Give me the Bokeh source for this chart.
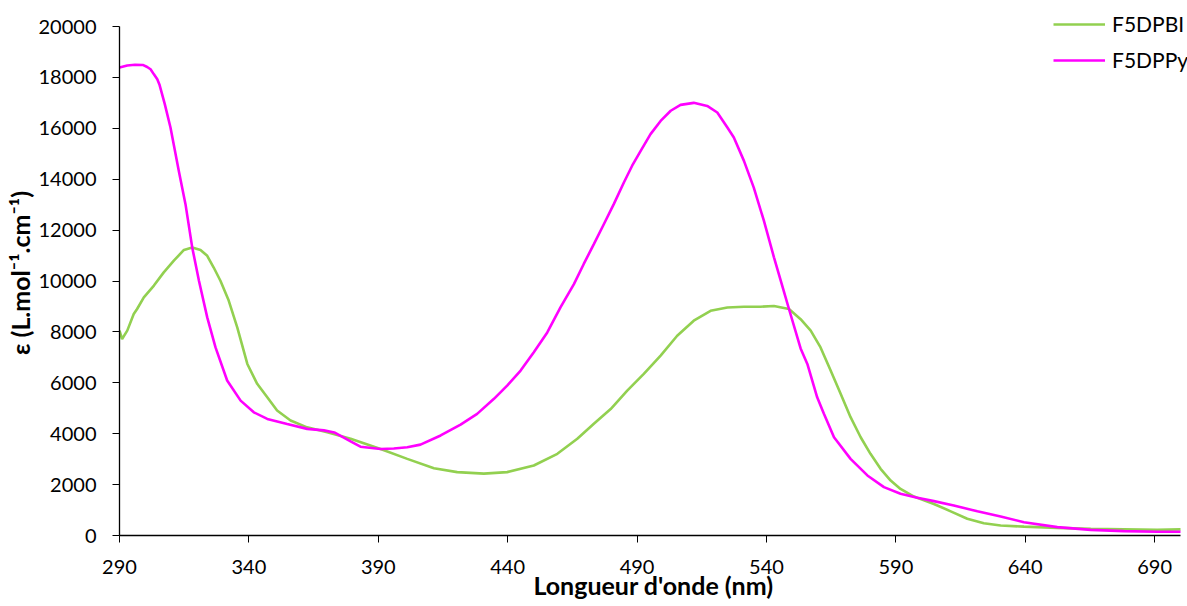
from bokeh.plotting import figure
from bokeh.models import Legend, LegendItem, FixedTicker
from bokeh.embed import file_html
from bokeh.resources import INLINE

# F5DPPy (magenta)
ppy_nm = [290, 293, 296, 299, 300.7, 302, 303.3, 304.6, 305.5, 307.5, 309.7, 312.9, 315.5, 318.1,
          320.7, 323.9, 327.1, 331.6, 336.8, 341.9, 347.1, 354.8, 362.5, 369, 373, 379.3, 383.1,
          390.9, 396, 401.2, 406.3, 414.1, 421.8, 428.2, 434.7, 439.8, 445, 450.1, 455.3, 460.4,
          465.6, 469.4, 473.3, 477.2, 481, 484.9, 488.1, 491.4, 495.2, 499.1, 503, 506.8, 511.9,
          517.1, 521, 524.9, 527.4, 531.3, 535.1, 539, 542.9, 546.7, 548.7, 553.2, 555.8,
          559.6, 562.2, 566.1, 572.5, 579, 585.4, 591.8, 598.3, 604.7, 612.4, 621.5, 630.5,
          639.5, 652.4, 665.3, 678.1, 691, 700]
ppy_eps = [18390, 18470, 18500, 18490, 18410, 18320, 18120, 17930, 17700, 16950, 16030, 14330, 13020,
           11320, 10010, 8570, 7390, 6090, 5300, 4840, 4580, 4380, 4190, 4130, 4050, 3700, 3490,
           3400, 3420, 3470, 3570, 3930, 4360, 4780, 5370, 5890, 6480, 7200, 7980, 8960,
           9880, 10670, 11450, 12240, 13020, 13870, 14530, 15110, 15770, 16290, 16690, 16920, 17000,
           16880, 16620, 16030, 15640, 14720, 13670, 12370, 10930, 9600, 8900, 7350, 6740,
           5430, 4780, 3860, 3010, 2360, 1900, 1640, 1480, 1350, 1180, 950, 750,
           520, 330, 220, 170, 150, 150]

# F5DPBI (green)
pbi_nm = [290, 291, 293, 295.5, 296.8, 299.4, 303.3, 307.1, 311, 314.9, 318.1, 321.3, 323.9,
          326.4, 329, 332.2, 335.5, 339.4, 343.2, 347.1, 350.9, 356.1, 362.5, 370.3, 379.3,
          390.9, 401.2, 411.5, 420.5, 430.8, 439.8, 450.1, 459.2, 466.9, 473.3, 479.8, 486.2,
          492.6, 499.1, 505.5, 511.9, 518.4, 524.9, 531.3, 537.7, 542.9, 548.7, 553.2, 557.1,
          560.9, 564.8, 568.7, 572.5, 576.4, 580.2, 584.1, 588, 591.8, 597, 604.7, 611.2,
          617.6, 624, 630.5, 639.5, 652.4, 665.3, 678.1, 691, 700]
pbi_eps = [8050, 7720, 8050, 8700, 8900, 9360, 9820, 10340, 10800, 11220, 11320, 11220, 10990,
           10530, 10010, 9230, 8180, 6740, 5960, 5430, 4910, 4520, 4250, 4060, 3800,
           3400, 3010, 2640, 2490, 2430, 2490, 2750, 3210, 3800, 4390, 4970, 5690,
           6350, 7070, 7850, 8440, 8830, 8960, 8990, 8990, 9020, 8900, 8500, 8050,
           7390, 6480, 5560, 4650, 3860, 3210, 2620, 2160, 1830, 1530, 1240, 950,
           660, 480, 390, 350, 300, 260, 240, 220, 240]

x_ticks = [290, 340, 390, 440, 490, 540, 590, 640, 690]
y_ticks = list(range(0, 20001, 2000))
x_bounds = (290, 700)
y_bounds = (0, 20000)
series_names = ["F5DPBI", "F5DPPy"]

FONT = "Lato"

# frame: 119..1187 px wide, 10..535 px tall; axes drawn only over the bounds
p = figure(width=1187, height=606, output_backend="svg", toolbar_location=None,
           x_range=(290, 702.7), y_range=(0, 20629),
           min_border_left=119, min_border_right=0, min_border_top=10, min_border_bottom=71)
p.outline_line_color = None
p.xgrid.grid_line_color = None
p.ygrid.grid_line_color = None

r1 = p.line(pbi_nm, pbi_eps, line_color="#92D050", line_width=2.6)
r2 = p.line(ppy_nm, ppy_eps, line_color="#FF00FF", line_width=2.6)

for ax in (p.xaxis[0], p.yaxis[0]):
    ax.axis_line_color = "black"
    ax.axis_line_width = 1.3
    ax.major_tick_line_color = "black"
    ax.major_tick_in = 0
    ax.major_tick_out = 7
    ax.minor_tick_line_color = None
    ax.major_label_text_font = FONT
    ax.major_label_text_font_size = "20px"
    ax.major_label_text_color = "black"
    ax.axis_label_text_font = FONT
    ax.axis_label_text_font_style = "bold"
    ax.axis_label_text_font_size = "25px"
    ax.axis_label_text_color = "black"

p.xaxis.bounds = x_bounds
p.yaxis.bounds = y_bounds
p.xaxis.ticker = FixedTicker(ticks=x_ticks)
p.yaxis.ticker = FixedTicker(ticks=y_ticks)
p.xaxis.axis_label = "Longueur d'onde (nm)"
p.yaxis.axis_label = "ε (L.mol⁻¹.cm⁻¹)"
p.xaxis.major_label_standoff = 17
p.yaxis.major_label_standoff = 16
p.xaxis.axis_label_standoff = -7
p.yaxis.axis_label_standoff = 1

legend = Legend(items=[LegendItem(label=series_names[0], renderers=[r1]),
                       LegendItem(label=series_names[1], renderers=[r2])],
                location=(934, 463))
legend.padding = 0
legend.margin = 0
legend.spacing = 11
legend.glyph_width = 52
legend.glyph_height = 24
legend.label_height = 24
legend.label_standoff = 7
legend.label_text_font = FONT
legend.label_text_font_size = "21px"
legend.label_text_color = "black"
legend.border_line_color = None
legend.background_fill_alpha = 0
p.add_layout(legend, "center")

open("out.html", "w").write(file_html(p, INLINE))
